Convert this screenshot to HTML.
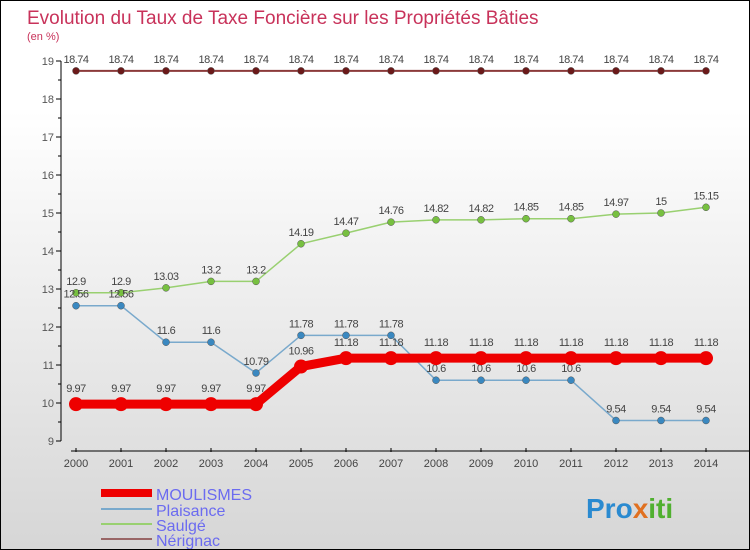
<!DOCTYPE html>
<html><head><meta charset="utf-8"><style>
body{margin:0}
#c{width:748px;height:548px;border:1px solid #000;background:linear-gradient(#fff,#fff 20%,#d6d6d6);position:relative;overflow:hidden;font-family:"Liberation Sans",sans-serif}
</style></head><body>
<div id="c">
<svg id="s" width="748" height="548" style="position:absolute;left:0;top:0">
<text x="26" y="23" font-size="19" fill="#c8325a">Evolution du Taux de Taxe Foncière sur les Propriétés Bâties</text>
<text x="26" y="39" font-size="11" fill="#c8325a">(en %)</text>
<g id="axes"></g><g id="series"></g>
<g>
<rect x="100" y="488" width="51" height="8" fill="#e00"/>
<text x="155" y="499" font-size="16" fill="#6b6bf0">MOULISMES</text>
<rect x="100" y="507" width="51" height="2" fill="#79a9cc"/>
<text x="155" y="515" font-size="16" fill="#6b6bf0">Plaisance</text>
<rect x="100" y="522" width="51" height="2" fill="#99d070"/>
<text x="155" y="530" font-size="16" fill="#6b6bf0">Saulgé</text>
<rect x="100" y="537" width="51" height="2" fill="#996666"/>
<text x="155" y="545" font-size="16" fill="#6b6bf0">Nérignac</text>
</g>
<text x="585" y="517" font-size="28" font-weight="bold"><tspan fill="#2a8ad0">Pro</tspan><tspan fill="#e07020">x</tspan><tspan fill="#50b030">iti</tspan></text>
</svg>
</div>
<script>
const years=[2000,2001,2002,2003,2004,2005,2006,2007,2008,2009,2010,2011,2012,2013,2014];
const yTicks=[9,10,11,12,13,14,15,16,17,18,19];
const moulismes=[9.97,9.97,9.97,9.97,9.97,10.96,11.18,11.18,11.18,11.18,11.18,11.18,11.18,11.18,11.18];
const plaisance=[12.56,12.56,11.6,11.6,10.79,11.78,11.78,11.78,10.6,10.6,10.6,10.6,9.54,9.54,9.54];
const saulge=[12.9,12.9,13.03,13.2,13.2,14.19,14.47,14.76,14.82,14.82,14.85,14.85,14.97,15,15.15];
const nerignac=[18.74,18.74,18.74,18.74,18.74,18.74,18.74,18.74,18.74,18.74,18.74,18.74,18.74,18.74,18.74];
const NS="http://www.w3.org/2000/svg";
const xs=i=>75+i*45, ys=v=>440-(v-9)*38;
function mk(t,a,p){const e=document.createElementNS(NS,t);for(const k in a)e.setAttribute(k,a[k]);p.appendChild(e);return e;}
const ax=document.getElementById('axes'),se=document.getElementById('series');
let e=mk('line',{x1:60,y1:60,x2:60,y2:440,stroke:'#000'},ax);


for(let v=9;v<=19;v+=0.5){mk('line',{x1:v%1?57:55,y1:ys(v),x2:60,y2:ys(v),stroke:'#000'},ax);}
yTicks.forEach(v=>{const t=mk('text',{x:53,y:ys(v)+4,'font-size':11,fill:'#555','text-anchor':'end'},ax);t.textContent=v;

});
e=mk('line',{x1:70,y1:450,x2:748,y2:450,stroke:'#000'},ax);


years.forEach((y,i)=>{mk('line',{x1:xs(i),y1:447,x2:xs(i),y2:451,stroke:'#000'},ax);
const t=mk('text',{x:xs(i),y:466,'font-size':11,fill:'#444','text-anchor':'middle'},ax);t.textContent=y;

});
function draw(data,name,col,w,r,dot){
const g=mk('g',{},se);


mk('polyline',{points:data.map((v,i)=>xs(i)+','+ys(v)).join(' '),fill:'none',stroke:col,'stroke-width':w},g);
data.forEach((v,i)=>{const c=mk('circle',{cx:xs(i),cy:ys(v),r:r,fill:dot,stroke:w>3?dot:'#555','stroke-width':w>3?0:0.5},g);


const t=mk('text',{x:xs(i),y:ys(v)-(w>3?12:8),'font-size':11,fill:'#444','text-anchor':'middle','letter-spacing':'-0.5'},g);t.textContent=v;

});
}
draw(nerignac,'nerignac','#8b3a3a',2,3.5,'#6b1a1a');
draw(saulge,'saulge','#99d070',1.5,3.5,'#77c040');
draw(plaisance,'plaisance','#79a9cc',1.5,3.5,'#3a88c0');
draw(moulismes,'moulismes','#ee0000',9,7,'#ee0000');
</script>
</body></html>
